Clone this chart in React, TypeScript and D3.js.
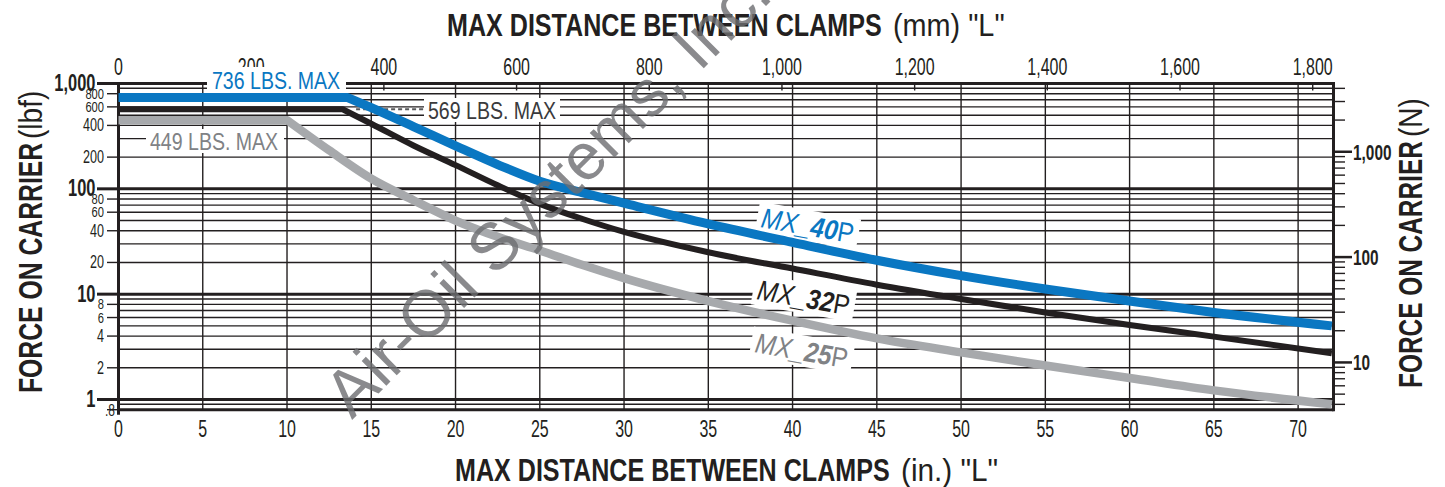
import React from 'react';
import * as d3 from 'd3';

const W = 1445;
const H = 487;
const FONT = '"Liberation Sans", Arial, Helvetica, sans-serif';
const INK = '#231f20';
const BLUE = '#0a77c2';
const GREY_LINE = '#a7a9ac';
const GREY_TEXT = '#808285';

// axis ticks
const inchTicks = [0, 5, 10, 15, 20, 25, 30, 35, 40, 45, 50, 55, 60, 65, 70];
const mmTicks = [0, 200, 400, 600, 800, 1000, 1200, 1400, 1600, 1800];
const lbfMajorTicks = [1, 10, 100, 1000];
const lbfMinorTicks = [0.8, 2, 4, 6, 8, 20, 40, 60, 80, 200, 400, 600, 800];
const newtonMajorTicks = [10, 100, 1000];
const newtonMinorTicks = [4, 5, 6, 7, 8, 9, 20, 30, 40, 50, 60, 70, 80, 90, 200, 300, 400, 500, 600, 700, 800, 900, 2000, 3000, 4000];

// [distance in., force lbf]
const mx40p = [[0, 736], [13.6, 736], [15, 590], [17.5, 390], [20, 256], [22.5, 170], [25, 118], [27.5, 92], [30, 73], [35, 46.5], [40, 31], [45, 21], [50, 15], [55, 11.2], [60, 8.6], [65, 6.7], [72, 5.0]];
const mx32p = [[0, 569], [13.3, 569], [15, 415], [17.5, 258], [20, 168], [22.5, 108], [25, 72], [27.5, 52], [30, 39], [35, 25], [40, 17.5], [45, 12.3], [50, 9], [55, 6.7], [60, 5.1], [65, 3.95], [72, 2.75]];
const mx25p = [[0, 449], [10, 449], [12.5, 232], [15, 125], [17.5, 78], [20, 50], [22.5, 35], [25, 26], [27.5, 19], [30, 14.2], [35, 8.6], [40, 5.6], [45, 3.8], [50, 2.8], [55, 2.1], [60, 1.6], [65, 1.22], [72, 0.9]];

const MM_PER_IN = 25.4;
const N_PER_LBF = 4.44822;

const x = d3.scaleLinear().domain([0, 72.1]).range([118.5, 1333.5]);
const y = d3.scaleLog().domain([0.8, 1000]).range([409.7, 83.5]);
const gridLbf = y.ticks();
const fmt = d3.format(',');

const smooth = d3.line<number[]>()
    .x(d => x(d[0]))
    .y(d => y(d[1]))
    .curve(d3.curveMonotoneX);

// flat "max" run drawn straight, buckling part smoothed from the knee on
function curvePath(data: number[][]) {
    const rest = smooth(data.slice(1)) || '';
    return `M${x(data[0][0])},${y(data[0][1])}L` + rest.slice(1);
}

function CText({ x, y, size, sx = 0.7, weight = 'normal', anchor = 'middle', fill = INK, children }: any) {
    return (
        <text transform={`translate(${x},${y}) scale(${sx},1)`} fontSize={size} fontWeight={weight}
            textAnchor={anchor} fill={fill} fontFamily={FONT}>{children}</text>
    );
}

function SeriesLabel({ tx, ty, color, num }: any) {
    return (
        <g transform={`translate(${tx},${ty}) rotate(10) scale(0.87,1)`}>
            <text fontSize={28} fontFamily={FONT} fill={color}>
                <tspan fontStyle="italic">MX_</tspan>
                <tspan fontStyle="italic" fontWeight="bold">{num}</tspan>
                <tspan>P</tspan>
            </text>
        </g>
    );
}

function LabelBox({ tx, ty }: any) {
    return (
        <g transform={`translate(${tx},${ty}) rotate(10) scale(0.87,1)`}>
            <rect x={-5} y={-25} width={118} height={31} fill="white" />
        </g>
    );
}

export default function App() {
    const [x0, x1] = x.range();
    const [yb, yt] = y.range();
    return (
        <svg width={W} height={H} style={{ position: 'absolute', left: 0, top: 0, background: 'white' }}>
            <rect width={W} height={H} fill="white" />

            {/* horizontal grid */}
            {gridLbf.map(v => {
                const major = lbfMajorTicks.includes(v) || v === 0.8;
                return <line key={'h' + v} x1={x0} x2={x1} y1={y(v)} y2={y(v)} stroke={INK} strokeWidth={major ? 3 : 1.4} />;
            })}
            {/* vertical grid */}
            {inchTicks.map(t => (
                <line key={'v' + t} x1={x(t)} x2={x(t)} y1={yt} y2={yb} stroke={INK} strokeWidth={1.4} />
            ))}
            {/* frame */}
            <line x1={x0} x2={x0} y1={yt - 1.5} y2={yb + 5} stroke={INK} strokeWidth={3} />
            <line x1={x1} x2={x1} y1={yt - 1.5} y2={yb + 1.5} stroke={INK} strokeWidth={3} />

            {/* top mm axis */}
            {mmTicks.map(t => (
                <g key={'mm' + t}>
                    <line x1={x(t / MM_PER_IN)} x2={x(t / MM_PER_IN)} y1={yt} y2={yt + 7} stroke={INK} strokeWidth={1.4} />
                    <CText x={x(t / MM_PER_IN)} y={75} size={23.5} sx={0.68}>{fmt(t)}</CText>
                </g>
            ))}
            {/* bottom inch axis */}
            {inchTicks.map(t => (
                <CText key={'in' + t} x={x(t)} y={437} size={23.5} sx={0.68}>{t}</CText>
            ))}

            {/* left lbf axis */}
            {lbfMajorTicks.map(v => (
                <g key={'lm' + v}>
                    <line x1={97} x2={x0} y1={y(v)} y2={y(v)} stroke={INK} strokeWidth={3} />
                    <CText x={95.5} y={y(v) + 7.5} size={23.5} sx={0.7} weight="bold" anchor="end">{fmt(v)}</CText>
                </g>
            ))}
            {lbfMinorTicks.map(v => {
                const lead = +String(v).replace('0.', '')[0];
                const small = lead >= 6;
                return (
                    <g key={'ln' + v}>
                        <line x1={107} x2={x0} y1={y(v)} y2={y(v)} stroke={INK} strokeWidth={1.4} />
                        {v < 1
                            ? <CText x={115} y={y(v) + 6.5} size={16} sx={0.75} anchor="end">{'.' + String(v).split('.')[1]}</CText>
                            : <CText x={104} y={y(v) + (small ? 5 : 6)} size={small ? 15.5 : 17.5} sx={0.72} anchor="end">{fmt(v)}</CText>}
                    </g>
                );
            })}

            {/* right newton axis */}
            {newtonMajorTicks.map(v => (
                <g key={'rm' + v}>
                    <line x1={x1} x2={1352} y1={y(v / N_PER_LBF)} y2={y(v / N_PER_LBF)} stroke={INK} strokeWidth={2.5} />
                    <CText x={1353} y={y(v / N_PER_LBF) + 8} size={22} sx={0.7} weight="bold" anchor="start">{fmt(v)}</CText>
                </g>
            ))}
            {newtonMinorTicks.map(v => (
                <line key={'rn' + v} x1={x1} x2={1345} y1={y(v / N_PER_LBF)} y2={y(v / N_PER_LBF)} stroke={INK} strokeWidth={1.4} />
            ))}

            {/* annotation boxes */}
            <rect x={207} y={67} width={139} height={26} fill="white" />
            <rect x={424} y={98} width={136} height={24} fill="white" />
            <rect x={146} y={129} width={138} height={24} fill="white" />
            <line x1={x(14.1)} x2={424} y1={y(569)} y2={y(569)} stroke="#58595b" strokeWidth={2} strokeDasharray="4 3" />
            <LabelBox tx={760} ty={227} />
            <LabelBox tx={756} ty={299} />
            <LabelBox tx={754} ty={352} />

            {/* curves */}
            <path d={curvePath(mx25p)} fill="none" stroke={GREY_LINE} strokeWidth={8.5} strokeLinejoin="round" />
            <path d={curvePath(mx32p)} fill="none" stroke={INK} strokeWidth={6} strokeLinejoin="round" />
            <path d={curvePath(mx40p)} fill="none" stroke={BLUE} strokeWidth={9} strokeLinejoin="round" />

            {/* annotations */}
            <CText x={212} y={88.5} size={23} sx={0.85} anchor="start" fill={BLUE}>736 LBS. MAX</CText>
            <CText x={428} y={118.5} size={23} sx={0.85} anchor="start" fill="#3a3a3c">569 LBS. MAX</CText>
            <CText x={150} y={150} size={23} sx={0.85} anchor="start" fill={GREY_TEXT}>449 LBS. MAX</CText>
            <SeriesLabel tx={760} ty={227} color={BLUE} num="40" />
            <SeriesLabel tx={756} ty={299} color={INK} num="32" />
            <SeriesLabel tx={754} ty={352} color={GREY_TEXT} num="25" />

            {/* titles */}
            <CText x={447} y={36} size={32} sx={0.785} weight="bold" anchor="start">MAX DISTANCE BETWEEN CLAMPS</CText>
            <CText x={893} y={36} size={32} sx={0.9} anchor="start">(mm) "L"</CText>
            <CText x={455} y={481} size={32} sx={0.785} weight="bold" anchor="start">MAX DISTANCE BETWEEN CLAMPS</CText>
            <CText x={901} y={481} size={32} sx={0.93} anchor="start">(in.) "L"</CText>

            <g transform="translate(42,393) rotate(-90)">
                <CText x={0} y={0} size={33} sx={0.75} weight="bold" anchor="start">FORCE ON CARRIER</CText>
                <CText x={254} y={0} size={33} sx={0.85} anchor="start">(lbf)</CText>
            </g>
            <g transform="translate(1422,388) rotate(-90)">
                <CText x={0} y={0} size={33} sx={0.74} weight="bold" anchor="start">FORCE ON CARRIER</CText>
                <CText x={251} y={0} size={33} sx={0.85} anchor="start">(N)</CText>
            </g>

            {/* watermark */}
            <text transform="translate(352,420) rotate(-45)" fontSize={66} fontFamily={FONT}
                fill="#6d6e71" opacity={0.8}>Air-Oil Systems, Inc.</text>
        </svg>
    );
}
